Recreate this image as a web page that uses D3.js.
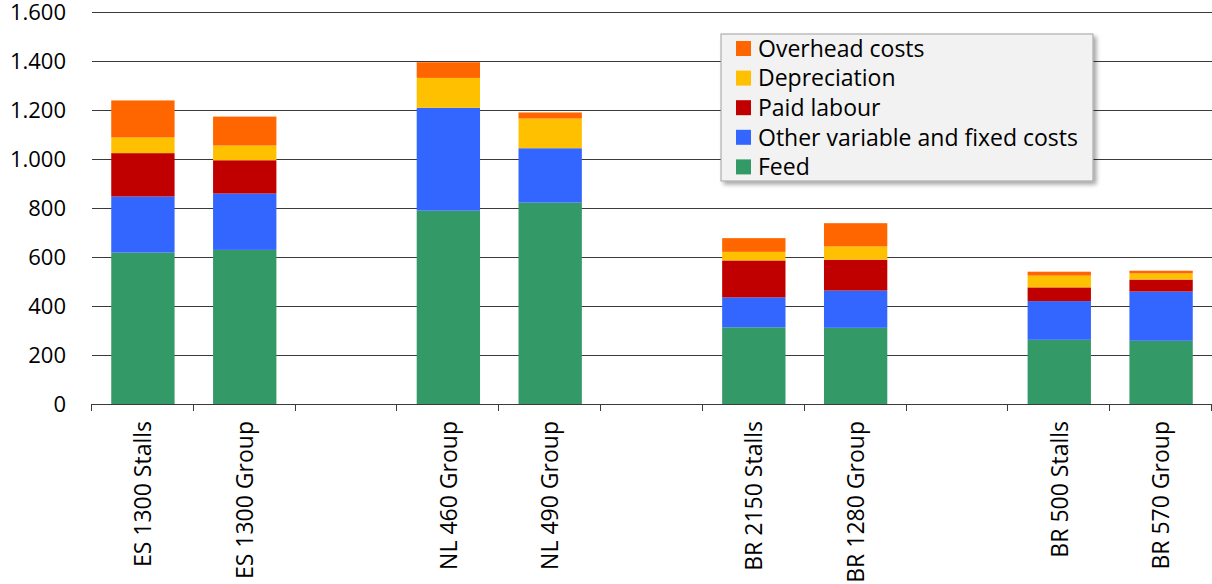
<!DOCTYPE html>
<html lang="en">
<head>
<meta charset="utf-8">
<title>Cost stack per farm</title>
<script src="https://cdn.jsdelivr.net/npm/d3@7"></script>
<style>
  body { margin: 0; background: #fff; }
  text { font-family: "Open Sans", "Noto Sans", sans-serif; fill: #000; }
</style>
</head>
<body>
<script>
// empty strings are the spacer slots between the country groups
var categories = ["ES 1300 Stalls", "ES 1300 Group", "",
                  "NL 460 Group", "NL 490 Group", "",
                  "BR 2150 Stalls", "BR 1280 Group", "",
                  "BR 500 Stalls", "BR 570 Group"];

var feed         = [618, 629, null, 789, 822, null, 313, 311, null, 262, 258];
var otherCosts   = [229, 230, null, 420, 222, null, 122, 152, null, 158, 201];
var paidLabour   = [177, 136, null,   0,   0, null, 151, 126, null,  56,  49];
var depreciation = [ 64,  60, null, 122, 121, null,  35,  54, null,  48,  25];
var overhead     = [151, 118, null,  64,  25, null,  56,  95, null,  16,  11];

var seriesNames = ["Feed", "Other variable and fixed costs", "Paid labour", "Depreciation", "Overhead costs"];
var seriesColors = ["#339966", "#3366ff", "#c00000", "#ffc000", "#ff6600"];
var yTicks = [0, 200, 400, 600, 800, 1000, 1200, 1400, 1600];

var w = 1212, h = 584;
var mLeft = 92, mRight = 1212, mTop = 12, mBottom = 404;

var svg = d3.select("body").append("svg")
  .attr("width", w)
  .attr("height", h);

var rows = categories.map(function(c, i) {
  return {
    cat: c, idx: i,
    "Feed": feed[i],
    "Other variable and fixed costs": otherCosts[i],
    "Paid labour": paidLabour[i],
    "Depreciation": depreciation[i],
    "Overhead costs": overhead[i]
  };
});

var x = d3.scaleBand()
  .domain(d3.range(categories.length))
  .range([mLeft, mRight])
  .paddingInner(0.378)
  .paddingOuter(0.189);

var y = d3.scaleLinear()
  .domain([0, 1600])
  .range([mBottom, mTop]);

var fmt = d3.formatLocale({ decimal: ",", thousands: ".", grouping: [3], currency: ["", "€"] }).format(",");

// gridlines
svg.append("g")
  .selectAll("line")
  .data(yTicks.filter(function(d) { return d > 0; }))
  .enter().append("line")
  .attr("x1", mLeft).attr("x2", mRight)
  .attr("y1", function(d) { return Math.round(y(d)) + 0.5; })
  .attr("y2", function(d) { return Math.round(y(d)) + 0.5; })
  .attr("stroke", "#3a3a3a")
  .attr("stroke-width", 1);

// y labels
svg.append("g")
  .selectAll("text")
  .data(yTicks)
  .enter().append("text")
  .attr("x", 66)
  .attr("y", function(d) { return y(d); })
  .attr("dy", "0.36em")
  .attr("text-anchor", "end")
  .attr("font-size", "22px")
  .text(function(d) { return fmt(d); });

// stacked bars
var stack = d3.stack().keys(seriesNames).value(function(d, k) { return d[k] || 0; });
var layers = stack(rows.filter(function(r) { return r.Feed !== null; }));

svg.append("g")
  .selectAll("g")
  .data(layers)
  .enter().append("g")
  .attr("fill", function(d, i) { return seriesColors[i]; })
  .selectAll("rect")
  .data(function(d) { return d.filter(function(p) { return p[1] > p[0]; }); })
  .enter().append("rect")
  .attr("x", function(d) { return x(d.data.idx); })
  .attr("y", function(d) { return y(d[1]); })
  .attr("width", x.bandwidth())
  .attr("height", function(d) { return y(d[0]) - y(d[1]); });

// x axis
var xa = svg.append("g");
xa.append("line")
  .attr("x1", mLeft).attr("x2", mRight)
  .attr("y1", mBottom + 0.5).attr("y2", mBottom + 0.5)
  .attr("stroke", "#3a3a3a");
xa.selectAll("line.tick")
  .data(d3.range(categories.length + 1))
  .enter().append("line")
  .attr("class", "tick")
  .attr("x1", function(i) { return Math.round(mLeft + i * x.step()) - 0.5; })
  .attr("x2", function(i) { return Math.round(mLeft + i * x.step()) - 0.5; })
  .attr("y1", mBottom).attr("y2", mBottom + 7)
  .attr("stroke", "#3a3a3a");
xa.selectAll("text")
  .data(rows.filter(function(r) { return r.cat !== ""; }))
  .enter().append("text")
  .attr("transform", function(d) {
    return "translate(" + (x(d.idx) + x.bandwidth() / 2) + "," + 421 + ") rotate(-90)";
  })
  .attr("dy", "0.36em")
  .attr("text-anchor", "end")
  .attr("font-size", "23px")
  .text(function(d) { return d.cat; });

// legend
var defs = svg.append("defs");
var f = defs.append("filter").attr("id", "shadow")
  .attr("x", "-5%").attr("y", "-5%").attr("width", "115%").attr("height", "130%");
f.append("feDropShadow").attr("dx", 3).attr("dy", 3).attr("stdDeviation", 2)
  .attr("flood-color", "#000").attr("flood-opacity", 0.35);

var lg = svg.append("g").attr("transform", "translate(721,34)");
lg.append("rect")
  .attr("width", 372).attr("height", 147)
  .attr("fill", "#f2f2f2")
  .attr("stroke", "#a0a0a0")
  .attr("filter", "url(#shadow)");

var legendItems = seriesNames.slice().reverse();
var legendColors = seriesColors.slice().reverse();
var li = lg.selectAll("g.item")
  .data(legendItems)
  .enter().append("g")
  .attr("class", "item")
  .attr("transform", function(d, i) { return "translate(15," + (14.5 + i * 29.6) + ")"; });
li.append("rect")
  .attr("x", 0).attr("y", -7.5)
  .attr("width", 15).attr("height", 15)
  .attr("fill", function(d, i) { return legendColors[i]; });
li.append("text")
  .attr("x", 22)
  .attr("dy", "0.36em")
  .attr("font-size", "23px")
  .text(function(d) { return d; });
</script>
</body>
</html>
